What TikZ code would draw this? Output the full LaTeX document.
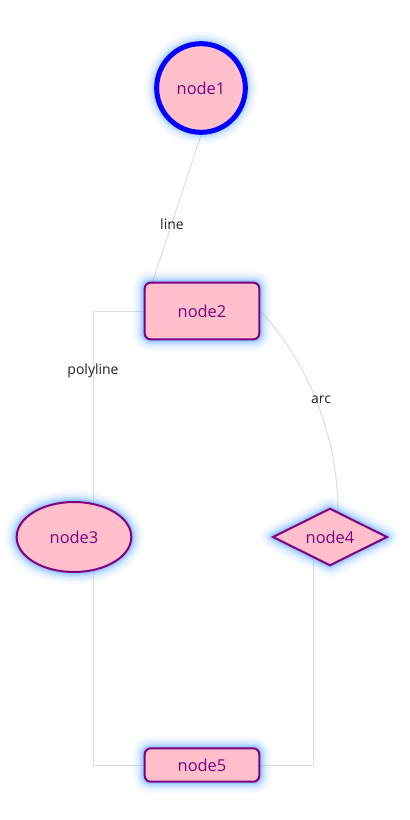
\documentclass[tikz,border=0pt]{standalone}
\usepackage{fontspec}
\setmainfont{Open Sans}
\usetikzlibrary{shapes.geometric,backgrounds,calc}
\definecolor{pinkfill}{HTML}{FFC0CB}
\definecolor{nodepurple}{HTML}{800080}
\definecolor{glowblue}{RGB}{80,160,255}
\definecolor{edgegrey}{HTML}{DDDDDD}
\definecolor{labgrey}{HTML}{222222}
\tikzset{
  glow/.style={
    preaction={draw=glowblue,line width=18pt,opacity=0.05,line join=round},
    preaction={draw=glowblue,line width=14pt,opacity=0.08,line join=round},
    preaction={draw=glowblue,line width=10pt,opacity=0.12,line join=round},
    preaction={draw=glowblue,line width=7pt,opacity=0.18,line join=round},
    preaction={draw=glowblue,line width=4pt,opacity=0.3,line join=round}},
  base/.style={glow, fill=pinkfill, text=nodepurple, font=\fontsize{12.3}{14}\selectfont, inner sep=0pt},
  pbox/.style={base, rectangle, draw=nodepurple, line width=1.5pt, rounded corners=4.5pt, minimum width=86pt},
  pcircle/.style={base, circle, draw=blue, line width=3.75pt, minimum size=66.5pt},
  pellipse/.style={base, ellipse, draw=nodepurple, line width=1.5pt, minimum width=86pt, minimum height=52.5pt},
  pdiamond/.style={base, diamond, shape aspect=2, draw=nodepurple, line width=1.5pt, minimum width=86pt, minimum height=43pt},
  edgeline/.style={draw=edgegrey, line width=0.75pt},
  lab/.style={text=labgrey, font=\fontsize{10.5}{12}\selectfont, inner sep=0pt}
}
\begin{document}
\begin{tikzpicture}[x=0.75pt,y=-0.75pt]
\useasboundingbox (0,0) rectangle (410,820);
\node[pcircle] (node1) at (201,88) {node1};
\node[pbox, minimum height=42.5pt] (node2) at (202,311) {node2};
\node[pellipse] (node3) at (74,537) {node3};
\node[pdiamond] (node4) at (330,537) {node4};
\node[pbox, minimum height=25pt] (node5) at (202,765) {node5};
\coordinate (pcorner) at (93,765);
\coordinate (n2top) at ($(node2.north west)+(9,0)$);
\coordinate (n4top) at ($(node4.north)+(8,4)$);
\coordinate (n4bot) at ($(node4.center)+(-17,0)$);
\begin{scope}[on background layer]
  \draw[edgeline] (node1.south) -- (n2top);
  \draw[edgeline] (node2.west) -| (pcorner) -- (node5.west);
  \draw[edgeline] (node2.east) .. controls +(50,54) and +(0,-72) .. (n4top);
  \draw[edgeline] (n4bot) |- (node5.east);
\end{scope}
\node[lab] (lline) at (172,224) {line};
\node[lab] (lpoly) at (93,371) {polyline};
\node[lab] (larc) at (321,400) {arc};
\end{tikzpicture}
\end{document}
